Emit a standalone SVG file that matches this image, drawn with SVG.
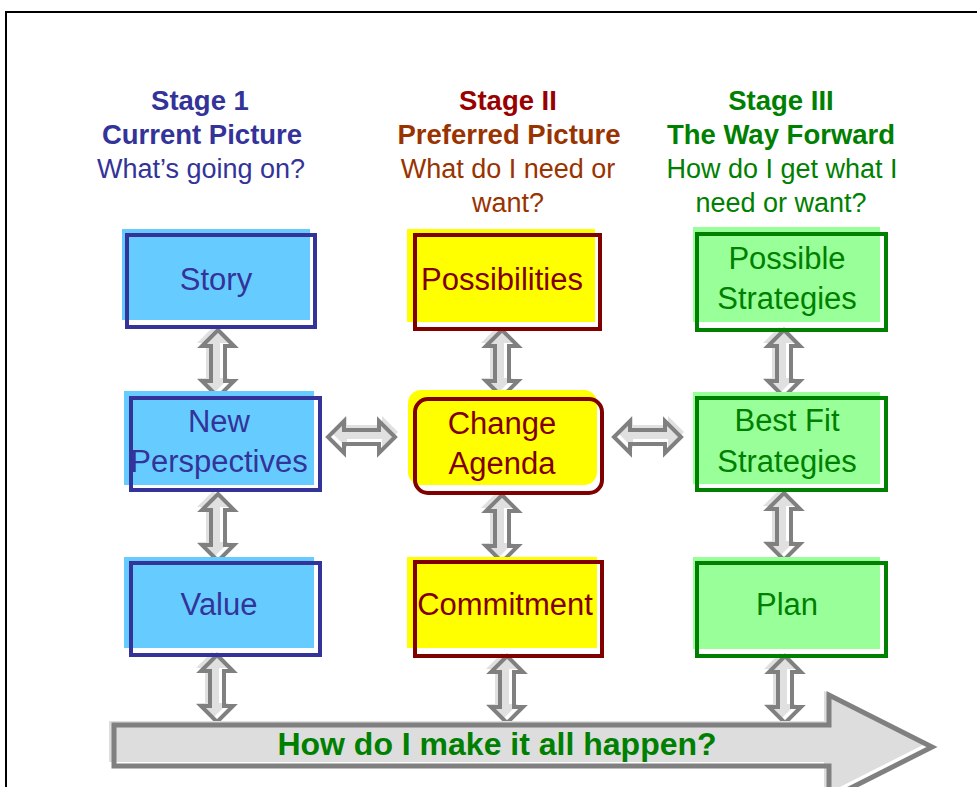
<svg xmlns="http://www.w3.org/2000/svg" xmlns:xlink="http://www.w3.org/1999/xlink" width="977" height="787" viewBox="0 0 977 787">
<style>
text{font-family:"Liberation Sans",Arial,sans-serif;text-anchor:middle}
.h{font-weight:bold;font-size:27.5px}
.s{font-size:27px}
.t{font-size:31px}
.b1f{fill:#66CCFF}.b1s{fill:none;stroke:#333399;stroke-width:4}
.b2f{fill:#FFFF00}.b2s{fill:none;stroke:#800000;stroke-width:4}
.b3f{fill:#99FF99}.b3s{fill:none;stroke:#008000;stroke-width:4}
.c1{fill:#333399}.c2{fill:#800000}.c3{fill:#008000}
.ash{fill:#e0e0e0}
.aol{fill:none;stroke:#808080;stroke-width:4;stroke-linejoin:miter}
</style>
<defs>
<path id="va" d="M0,0 L16,16 L7,16 L7,51 L16,51 L0,67 L-16,51 L-7,51 L-7,16 L-16,16 Z"/>
<g id="dva">
<use xlink:href="#va" class="ash" transform="translate(-5,-3)"/>
<use xlink:href="#va" class="aol"/>
</g>
</defs>
<rect x="6" y="12" width="1000" height="800" fill="none" stroke="#000" stroke-width="2"/>

<g id="headings">
<text class="h c1" x="200" y="110">Stage 1</text>
<text class="h c1" x="202" y="144">Current Picture</text>
<text class="s c1" x="201" y="178">What’s going on?</text>
<text class="h" x="508" y="110" fill="#990000">Stage II</text>
<text class="h" x="509" y="144" fill="#993300">Preferred Picture</text>
<text class="s" x="508" y="178" fill="#993300">What do I need or</text>
<text class="s" x="508" y="212" fill="#993300">want?</text>
<text class="h c3" x="781" y="110">Stage III</text>
<text class="h c3" x="781" y="144">The Way Forward</text>
<text class="s c3" x="782" y="178">How do I get what I</text>
<text class="s c3" x="781" y="212">need or want?</text>
</g>

<g id="connectors">
<use xlink:href="#dva" transform="translate(218,330)"/>
<use xlink:href="#dva" transform="translate(218,494)"/>
<use xlink:href="#dva" transform="translate(217,655)"/>
<use xlink:href="#dva" transform="translate(502,330)"/>
<use xlink:href="#dva" transform="translate(502,495)"/>
<use xlink:href="#dva" transform="translate(507,656)"/>
<use xlink:href="#dva" transform="translate(784,330)"/>
<use xlink:href="#dva" transform="translate(784,493)"/>
<use xlink:href="#dva" transform="translate(785,656)"/>
<use xlink:href="#dva" transform="translate(395,437) rotate(90)"/>
<use xlink:href="#dva" transform="translate(681,437) rotate(90)"/>
</g>

<g id="story">
<rect class="b1f" x="122" y="229" width="188" height="91"/>
<rect class="b1s" x="127" y="235" width="188" height="92"/>
<text class="t c1" x="216" y="290">Story</text>
</g>
<g id="new-perspectives">
<rect class="b1f" x="124" y="391" width="190" height="94"/>
<rect class="b1s" x="131" y="398" width="189" height="92"/>
<text class="t c1" x="219" y="432">New</text>
<text class="t c1" x="219" y="472">Perspectives</text>
</g>
<g id="value">
<rect class="b1f" x="124" y="557" width="190" height="91"/>
<rect class="b1s" x="131" y="563" width="189" height="92"/>
<text class="t c1" x="219" y="615">Value</text>
</g>

<g id="possibilities">
<rect class="b2f" x="407" y="229" width="188" height="93"/>
<rect class="b2s" x="415" y="235" width="185" height="94"/>
<text class="t c2" x="502" y="290">Possibilities</text>
</g>
<g id="change-agenda">
<rect class="b2f" x="408" y="390" width="189" height="95" rx="13"/>
<rect class="b2s" x="415" y="399" width="187" height="94" rx="13"/>
<text class="t c2" x="502" y="434">Change</text>
<text class="t c2" x="502" y="474">Agenda</text>
</g>
<g id="commitment">
<rect class="b2f" x="407" y="557" width="190" height="91"/>
<rect class="b2s" x="415" y="562" width="187" height="94"/>
<text class="t c2" x="505" y="615">Commitment</text>
</g>

<g id="possible-strategies">
<rect class="b3f" x="693" y="227" width="187" height="95"/>
<rect class="b3s" x="697" y="234" width="189" height="96"/>
<text class="t c3" x="787" y="269">Possible</text>
<text class="t c3" x="787" y="309">Strategies</text>
</g>
<g id="best-fit-strategies">
<rect class="b3f" x="693" y="392" width="187" height="92"/>
<rect class="b3s" x="697" y="398" width="189" height="92"/>
<text class="t c3" x="787" y="431">Best Fit</text>
<text class="t c3" x="787" y="472">Strategies</text>
</g>
<g id="plan">
<rect class="b3f" x="693" y="557" width="187" height="92"/>
<rect class="b3s" x="697" y="563" width="189" height="93"/>
<text class="t c3" x="787" y="615">Plan</text>
</g>

<g id="big-arrow">
<path d="M114,725 L829,725 L829,695 L932,747 L829,799 L829,766 L114,766 Z" fill="#dddddd" transform="translate(-5,-4)"/>
<path d="M114,725 L829,725 L829,695 L932,747 L829,799 L829,766 L114,766 Z" fill="none" stroke="#808080" stroke-width="5"/>
<text x="497" y="755" font-size="32" font-weight="bold" fill="#008000">How do I make it all happen?</text>
</g>
</svg>
